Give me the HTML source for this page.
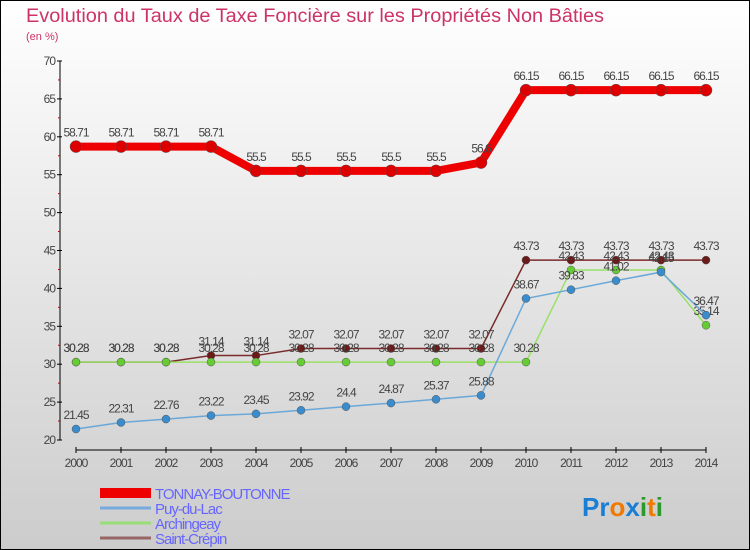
<!DOCTYPE html>
<html><head><meta charset="utf-8"><style>
body{margin:0;}
#c{width:750px;height:550px;position:relative;overflow:hidden;font-family:"Liberation Sans",sans-serif;}
</style></head><body>
<div id="c">
<svg id="s" width="750" height="550" xmlns="http://www.w3.org/2000/svg">
<defs><linearGradient id="bg" x1="0" y1="0" x2="0" y2="1"><stop offset="0" stop-color="#ffffff"/><stop offset="1" stop-color="#cccccc"/></linearGradient></defs>
<rect x="0.5" y="0.5" width="749" height="549" fill="url(#bg)" stroke="#000"/>
<text x="26" y="22" font-size="19" fill="#cc3366" textLength="578" lengthAdjust="spacingAndGlyphs">Evolution du Taux de Taxe Foncière sur les Propriétés Non Bâties</text>
<text x="26" y="40" font-size="11" fill="#cc3366">(en %)</text>
<g id="axes"></g><g id="series"></g><g id="legend"></g>
<text x="582" y="516" font-size="26" font-weight="bold"><tspan fill="#1a7fd4">Pr</tspan><tspan fill="#f07a00">o</tspan><tspan fill="#1a7fd4">x</tspan><tspan fill="#2a9a2a">i</tspan><tspan fill="#f07a00">t</tspan><tspan fill="#2a9a2a">i</tspan></text>
</svg></div>
<script>
const years=[2000,2001,2002,2003,2004,2005,2006,2007,2008,2009,2010,2011,2012,2013,2014];
const yTicks=[20,25,30,35,40,45,50,55,60,65,70];
const tonnay=[58.71,58.71,58.71,58.71,55.5,55.5,55.5,55.5,55.5,56.6,66.15,66.15,66.15,66.15,66.15];
const puy=[21.45,22.31,22.76,23.22,23.45,23.92,24.4,24.87,25.37,25.88,38.67,39.83,41.02,42.15,36.47];
const arch=[30.28,30.28,30.28,30.28,30.28,30.28,30.28,30.28,30.28,30.28,30.28,42.43,42.43,42.43,35.14];
const stc=[30.28,30.28,30.28,31.14,31.14,32.07,32.07,32.07,32.07,32.07,43.73,43.73,43.73,43.73,43.73];
const names=["TONNAY-BOUTONNE","Puy-du-Lac","Archingeay","Saint-Crépin"];
const NS="http://www.w3.org/2000/svg";
function X(i){return 76+i*(706-76)/(years.length-1);}
function Y(v){return 440-(v-20)*(440-61)/50;}
function mk(t,a,p){const e=document.createElementNS(NS,t);for(const k in a)e.setAttribute(k,a[k]);p.appendChild(e);return e;}
const ax=document.getElementById('axes');
const yl=mk('line',{x1:60,y1:61,x2:60,y2:440,stroke:'#000'},ax);


yTicks.forEach(v=>{
 mk('line',{x1:57,y1:Y(v),x2:62,y2:Y(v),stroke:'#000'},ax);
 if(v<70) mk('line',{x1:58,y1:Y(v+2.5),x2:60,y2:Y(v+2.5),stroke:'#c00'},ax);
 const t=mk('text',{x:55,y:Y(v)+4,'font-size':12,fill:'#444','text-anchor':'end','letter-spacing':'-1'},ax);t.textContent=v;
 
 
});
const xl=mk('line',{x1:76,y1:450,x2:706,y2:450,stroke:'#000'},ax);


years.forEach((y,i)=>{
 mk('line',{x1:X(i),y1:447,x2:X(i),y2:453,stroke:'#000'},ax);
 const t=mk('text',{x:X(i),y:467,'font-size':12,fill:'#444','text-anchor':'middle','letter-spacing':'-1'},ax);t.textContent=y;
 
 
});
const sg=document.getElementById('series');
const defs=[[stc,'#7a2a2a','#6b1a1a',1.5,4,'saint-crepin'],[arch,'#99e066','#66cc33',1.5,4,'archingeay'],[puy,'#6aa8d8','#3a8ccc',1.5,4,'puy-du-lac'],[tonnay,'#ee0000','#dd0000',8,6,'tonnay-boutonne']];
defs.forEach(d=>{
 const [vals,lc,pc,w,r,n]=d;
 const g=mk('g',{},sg);
 
 
 const pl=mk('polyline',{points:vals.map((v,i)=>X(i)+','+Y(v)).join(' '),fill:'none',stroke:lc,'stroke-width':w},g);
 
 
 vals.forEach((v,i)=>{
  const c=mk('circle',{cx:X(i),cy:Y(v),r:r,fill:pc,stroke:'#555','stroke-width':0.5},g);
  
  
  const t=mk('text',{x:X(i),y:Y(v)-10,'font-size':12,fill:'#444','text-anchor':'middle','letter-spacing':'-1'},g);t.textContent=v;
  
  
 });
});
const lg=document.getElementById('legend');
const lcols=['#ee0000','#77aadd','#99dd77','#996666'],lw=[10,3,3,3];
names.forEach((n,i)=>{
 const yy=493+i*15;
 const l=mk('line',{x1:100,y1:yy,x2:151,y2:yy,stroke:lcols[i],'stroke-width':lw[i]},lg);
 
 
 const t=mk('text',{x:155,y:yy+6,'font-size':15,fill:'#6666ff','letter-spacing':'-1'},lg);t.textContent=n;
 
 
});
</script>
</body></html>
